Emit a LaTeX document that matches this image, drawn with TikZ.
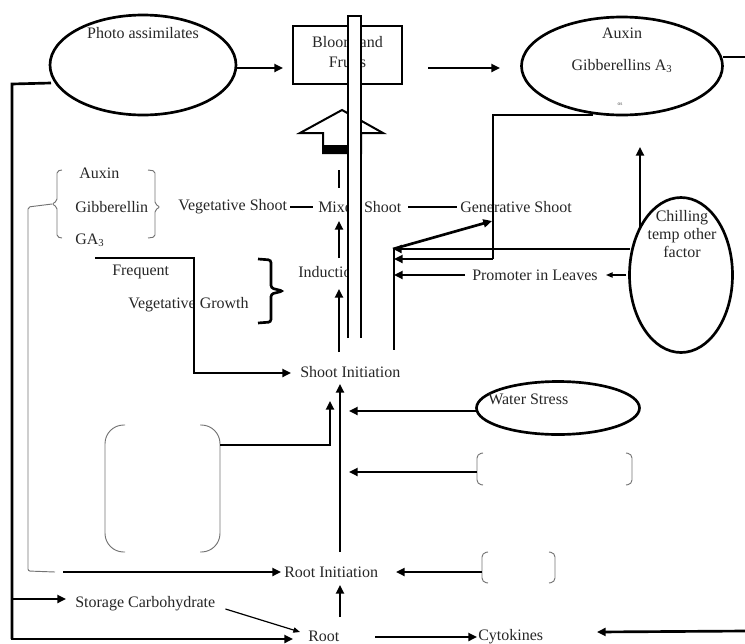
\documentclass[tikz,border=0pt]{standalone}
\usepackage{fontspec}
\setmainfont{Liberation Serif}
\usetikzlibrary{arrows.meta,shapes.geometric}
\begin{document}
\begin{tikzpicture}[x=0.75pt,y=-0.75pt,
  ln/.style={line width=2pt,black},
  arr/.style={ln,-{Triangle[length=6.5pt,width=6pt]}},
  sarr/.style={line width=0.9pt,black,-{Triangle[length=5pt,width=4pt]}},
  thin/.style={line width=0.7pt,black!55},
  txt/.style={font=\fontsize{12}{14}\selectfont,inner sep=0pt,text=black!85},
  oval/.style={draw,ellipse,line width=2pt,inner sep=0pt}]
\useasboundingbox (0,0) rectangle (745,643);

% ellipses and box
\node[oval,minimum width=139.5pt,minimum height=75pt] (photo) at (143,65) {};
\node[txt] (photot) at (143,33) {Photo assimilates};
\node[oval,minimum width=150.75pt,minimum height=73.5pt] (auxE) at (622,66) {};
\node[txt] (auxt) at (622,33) {Auxin};
\node[txt] (gibt) at (622,66) {Gibberellins A\textsubscript{3}};
\node[font=\fontsize{4}{5}\selectfont,inner sep=0pt,text=black!70] (ost) at (620,104) {os};
\node[oval,minimum width=77.25pt,minimum height=116.25pt] (chill) at (681,275) {};
\node[txt,align=center,font=\fontsize{12}{13.5}\selectfont] (chillt) at (682,234) {Chilling\\temp other\\factor};
\node[oval,minimum width=122.25pt,minimum height=39.75pt] (water) at (558,408) {};
\node[txt,anchor=west] (watert) at (488,399) {Water Stress};
\node[draw,ln,minimum width=81.75pt,minimum height=43.5pt,inner sep=0pt] (bloom) at (347.5,55) {};
\node[txt,align=center,font=\fontsize{12}{14.5}\selectfont] (bloomt) at (347.5,52) {Bloom and\\Fruits};

% texts
\node[txt,anchor=west] (ax) at (79,173) {Auxin};
\node[txt,anchor=west] (gb) at (75,207) {Gibberellin};
\node[txt,anchor=west] (ga) at (75,240) {GA\textsubscript{3}};
\node[txt,anchor=west] (veg) at (178,207) {Vegetative Shoot};
\node[txt,anchor=west] (mix) at (318,207) {Mixed Shoot};
\node[txt,anchor=west] (gen) at (460,207) {Generative Shoot};
\node[txt,anchor=west] (freq) at (112,272) {Frequent};
\node[txt,anchor=west] (vg) at (128,305) {Vegetative Growth};
\node[txt,anchor=west] (ind) at (298,272) {Induction};
\node[txt,anchor=west] (prom) at (472,275) {Promoter in Leaves};
\node[txt,anchor=west] (shi) at (300,372) {Shoot Initiation};
\node[txt,anchor=west] (rti) at (284,572) {Root Initiation};
\node[txt,anchor=west] (stc) at (75,604) {Storage Carbohydrate};
\node[txt,anchor=west] (root) at (308,636) {Root};
\node[txt,anchor=west] (cyt) at (478,637) {Cytokines};

% top row arrows
\draw[arr] (photo.east |- 0,68) -- (283,68);
\draw[arr] (428,68) -- (500,68);
\draw[ln] (723,57) -- (745,57);

% left outer loop
\draw[ln] (51,83) -- (12,84) -- (12,639);
\draw[arr] (11,639) -- (293,639);
\draw[arr] (12,599) -- (66,599);
\draw[sarr] (stc.east) ++(10,5) -- (300,632);

% auxin bracket group
\draw[thin,rounded corners=1.5pt] (62,170) -- (57,171) -- (57,201) -- (52,204) -- (57,207) -- (57,237) -- (62,238);
\draw[thin,rounded corners=1.5pt] (148,170) -- (155,171) -- (155,204) -- (160,207) -- (155,210) -- (155,237) -- (148,238);
\draw[thin,rounded corners=1.5pt] (52,204) -- (28,207) -- (28,571) -- (55,572);
\draw[ln] (290,207) -- (313,207);
\draw[ln] (408,207) -- (457,207);

% frequent vegetative growth
\draw[ln] (95,258) -- (194,258) -- (194,373);
\draw[arr] (193,373) -- (291,373);
\draw[ln,rounded corners=2pt] (258,259) -- (271,260) -- (271,288) -- (283,291) -- (271,294) -- (271,322) -- (258,323);

% center column arrows
\draw[ln] (339,170) -- (339,188);
\draw[arr] (339,258) -- (339,221);
\draw[arr] (339,352) -- (339,289);
\draw[arr] (340,552) -- (340,384);
\draw[arr] (340,617) -- (340,585);

% right cluster
\draw[ln] (593,115) -- (493,115) -- (493,259);
\draw[arr] (493,259) -- (394,259);
\draw[arr] (630,249) -- (393,249);
\draw[arr] (393,249) -- (492,221);
\draw[ln] (394,249) -- (394,350);
\draw[arr] (465,275) -- (394,275);
\draw[sarr] (626,275) -- (606,275);
\draw[arr] (640,228) -- (640,147);

% lower inputs
\draw[arr] (477,411) -- (349,411);
\draw[thin,rounded corners=3pt] (483,453) -- (477,454) -- (477,484) -- (483,485);
\draw[thin,rounded corners=3pt] (626,453) -- (632,454) -- (632,484) -- (626,485);
\draw[arr] (477,472) -- (349,472);
\draw[thin,rounded corners=3pt] (488,552) -- (482,553) -- (482,582) -- (488,583);
\draw[thin,rounded corners=3pt] (549,552) -- (555,553) -- (555,582) -- (549,583);
\draw[arr] (482,572) -- (396,572);
\draw[arr] (63,572) -- (281,572);
\draw[thin,rounded corners=14pt] (125,425) -- (105,425) -- (105,552) -- (125,552);
\draw[thin,rounded corners=14pt] (200,425) -- (220,425) -- (220,552) -- (200,552);
\draw[ln] (220,445) -- (330,445) -- (330,440);
\draw[arr] (330,446) -- (330,401);

% bottom row
\draw[arr] (375,637) -- (477,637);
\draw[arr] (745,631) -- (597,632);

% hollow block arrow
\draw[line width=1.5pt,fill=white] (342,110) -- (383,133) -- (361,133) -- (361,153) -- (323,153) -- (323,133) -- (300,133) -- cycle;
\fill[black] (323,145) rectangle (349,154);

% long bar
\fill[white] (348,16) rectangle (361,338);
\draw[line width=1.6pt] (348,338) -- (348,16) -- (361,16) -- (361,338);
\end{tikzpicture}
\end{document}
